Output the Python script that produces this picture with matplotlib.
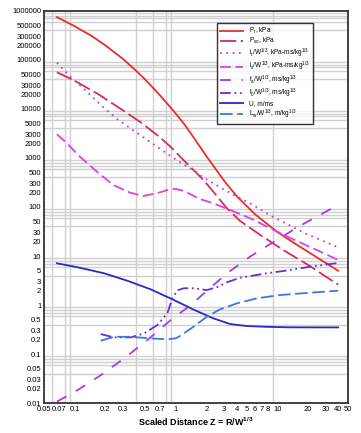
import matplotlib
matplotlib.use("Agg")
import matplotlib.pyplot as plt
from matplotlib.ticker import FixedLocator, LogLocator, NullFormatter

plt.rcParams['font.family'] = ['Liberation Sans', 'DejaVu Sans']
plt.rcParams['mathtext.fontset'] = 'custom'
plt.rcParams['mathtext.rm'] = 'Liberation Sans'
plt.rcParams['mathtext.it'] = 'Liberation Sans:italic'
plt.rcParams['mathtext.bf'] = 'Liberation Sans:bold'

# Data (scaled distance Z in m/kg^1/3)
z_pr = [0.067, 0.1, 0.15, 0.2, 0.3, 0.4, 0.5, 0.7, 1.0, 1.2, 1.5, 2.0, 3.0, 4.0, 6.0, 10, 15, 25, 40]
pr = [743000, 487000, 300000, 200000, 105000, 61500, 39400, 18800, 8000, 5000, 2600, 1090, 340, 165, 72, 31, 17.9, 9.2, 5.0]

z_pso = [0.067, 0.099, 0.168, 0.286, 0.451, 0.71, 0.912, 1.186, 1.49, 1.87, 2.34, 3.18, 4.30, 6.78, 11.5, 20.4, 32.1, 40]
pso = [56000, 38000, 20500, 10000, 5300, 2550, 1600, 910, 569, 356, 205, 95, 52, 27, 13.2, 6.5, 3.5, 2.6]

z_ir = [0.067, 0.087, 0.127, 0.186, 0.270, 0.396, 0.578, 1.02, 1.49, 1.87, 2.95, 4.3, 5.4, 9.18, 19.6, 40]
ir = [88000, 49400, 24400, 11500, 5970, 3440, 2000, 900, 560, 400, 230, 150, 119, 62, 28, 15]

z_is = [0.067, 0.084, 0.113, 0.166, 0.241, 0.353, 0.478, 0.648, 0.877, 0.98, 1.2, 1.73, 2.34, 3.43, 5.4, 7.89, 12.6, 24.7, 40]
is_ = [3040, 2000, 1060, 525, 281, 196, 168, 190, 230, 235, 212, 145, 119, 87, 59, 40, 24.8, 13.2, 8.3]

z_ta = [0.067, 0.107, 0.182, 0.308, 0.523, 0.891, 1.40, 3.18, 5.4, 7.31, 16.2, 40]
ta = [0.0107, 0.0184, 0.0372, 0.0817, 0.193, 0.494, 1.0, 4.4, 9.7, 14.4, 39.6, 110]

z_t0 = [0.181, 0.245, 0.359, 0.485, 0.656, 0.824, 0.924, 1.035, 1.2, 1.49, 2.02, 2.53, 3.18, 4.3, 7.89, 13.4, 21.1, 40]
t0 = [0.256, 0.219, 0.219, 0.264, 0.39, 0.68, 1.37, 2.0, 2.2, 2.2, 2.02, 2.3, 2.9, 3.6, 4.44, 5.18, 6.05, 7.2]

z_u = [0.067, 0.107, 0.196, 0.332, 0.565, 0.924, 1.51, 2.34, 3.43, 5.01, 7.89, 13.4, 40]
u = [7.1, 5.9, 4.44, 3.13, 2.09, 1.31, 0.80, 0.536, 0.41, 0.373, 0.36, 0.351, 0.35]

z_lw = [0.181, 0.245, 0.359, 0.565, 0.824, 1.0, 1.12, 1.49, 2.02, 2.73, 3.99, 6.29, 10.7, 20.8, 40]
lw_ = [0.187, 0.225, 0.225, 0.209, 0.20, 0.21, 0.24, 0.36, 0.577, 0.817, 1.08, 1.37, 1.6, 1.78, 1.96]

y_ticks = [1000000, 500000, 300000, 200000, 100000, 50000, 30000, 20000, 10000, 5000, 3000, 2000,
           1000, 500, 300, 200, 100, 50, 30, 20, 10, 5, 3, 2, 1, 0.5, 0.3, 0.2, 0.1, 0.05, 0.03, 0.02, 0.01]
y_labels = ["1000000", "500000", "300000", "200000", "100000", "50000", "30000", "20000", "10000", "5000",
            "3000", "2000", "1000", "500", "300", "200", "100", "50", "30", "20", "10", "5", "3", "2", "1",
            "0.5", "0.3", "0.2", "0.1", "0.05", "0.03", "0.02", "0.01"]
x_ticks = [0.05, 0.07, 0.1, 0.2, 0.3, 0.5, 0.7, 1, 2, 3, 4, 5, 6, 7, 8, 10, 20, 30, 40, 50]
x_labels = ["0.05", "0.07", "0.1", "0.2", "0.3", "0.5", "0.7", "1", "2", "3", "4", "5", "6", "7", "8",
            "10", "20", "30", "40", "50"]

fig = plt.figure(figsize=(3.61, 4.33), dpi=100)
ax = fig.add_axes([0.122, 0.069, 0.842, 0.906])
ax.set_xscale('log')
ax.set_yscale('log')
ax.set_xlim(0.05, 50)
ax.set_ylim(0.01, 1000000)

lw = 1.3
ax.plot(z_pr, pr, color='#E3302E', lw=lw, label=r'P$_{\rm r}$, kPa')
ax.plot(z_pso, pso, color='#D62D5C', lw=lw, dashes=(9, 2.5), label=r'P$_{\rm so}$, kPa')
ax.plot(z_ir, ir, color='#D23CC4', lw=lw, dashes=(1, 2.5), label=r'i$_{\rm r}$/W$^{1/3}$, kPa-ms/kg$^{1/3}$')
ax.plot(z_is, is_, color='#E040E0', lw=lw, dashes=(6, 2.5), label=r'i$_{\rm s}$/W$^{1/3}$, kPa-ms/kg$^{1/3}$')
ax.plot(z_ta, ta, color='#A33CE6', lw=lw, dashes=(6, 6), label=r't$_{\rm a}$/W$^{1/3}$, ms/kg$^{1/3}$')
ax.plot(z_t0, t0, color='#6A2ED6', lw=lw, dashes=(6, 2, 1, 2, 1, 2), label=r't$_{\rm 0}$/W$^{1/3}$, ms/kg$^{1/3}$')
ax.plot(z_u, u, color='#2A2AC6', lw=lw, label='U, m/ms')
ax.plot(z_lw, lw_, color='#3B78DC', lw=lw, dashes=(7, 2.5), label=r'L$_{\rm w}$/W$^{1/3}$, m/kg$^{1/3}$')

# grid on every 1..9 multiple
ax.xaxis.set_minor_locator(LogLocator(base=10, subs=range(1, 10), numticks=20))
ax.yaxis.set_minor_locator(LogLocator(base=10, subs=range(1, 10), numticks=20))
ax.xaxis.set_minor_formatter(NullFormatter())
ax.yaxis.set_minor_formatter(NullFormatter())
ax.grid(which='minor', color='#d0d0d0', lw=1.0)
ax.grid(which='major', visible=False)
ax.set_axisbelow(True)

ax.yaxis.set_major_locator(FixedLocator(y_ticks))
ax.set_yticklabels(y_labels)
ax.xaxis.set_major_locator(FixedLocator(x_ticks))
ax.set_xticklabels(x_labels)
ax.tick_params(which='both', length=0, labelsize=5.5, pad=2)

for s in ax.spines.values():
    s.set_color('#333333')
    s.set_linewidth(1.3)

ax.set_xlabel(r'Scaled Distance Z = R/W$^{\mathbf{1/3}}$', fontsize=6.5, fontweight='bold', labelpad=2)

leg = ax.legend(loc='upper left', bbox_to_anchor=(0.569, 0.969), fontsize=4.7, frameon=True,
                fancybox=False, edgecolor='black', handlelength=3.6, handletextpad=0.8,
                labelspacing=0.02, borderpad=0.45, borderaxespad=0)
leg.get_frame().set_linewidth(1.0)

fig.savefig('out.png', dpi=100)
